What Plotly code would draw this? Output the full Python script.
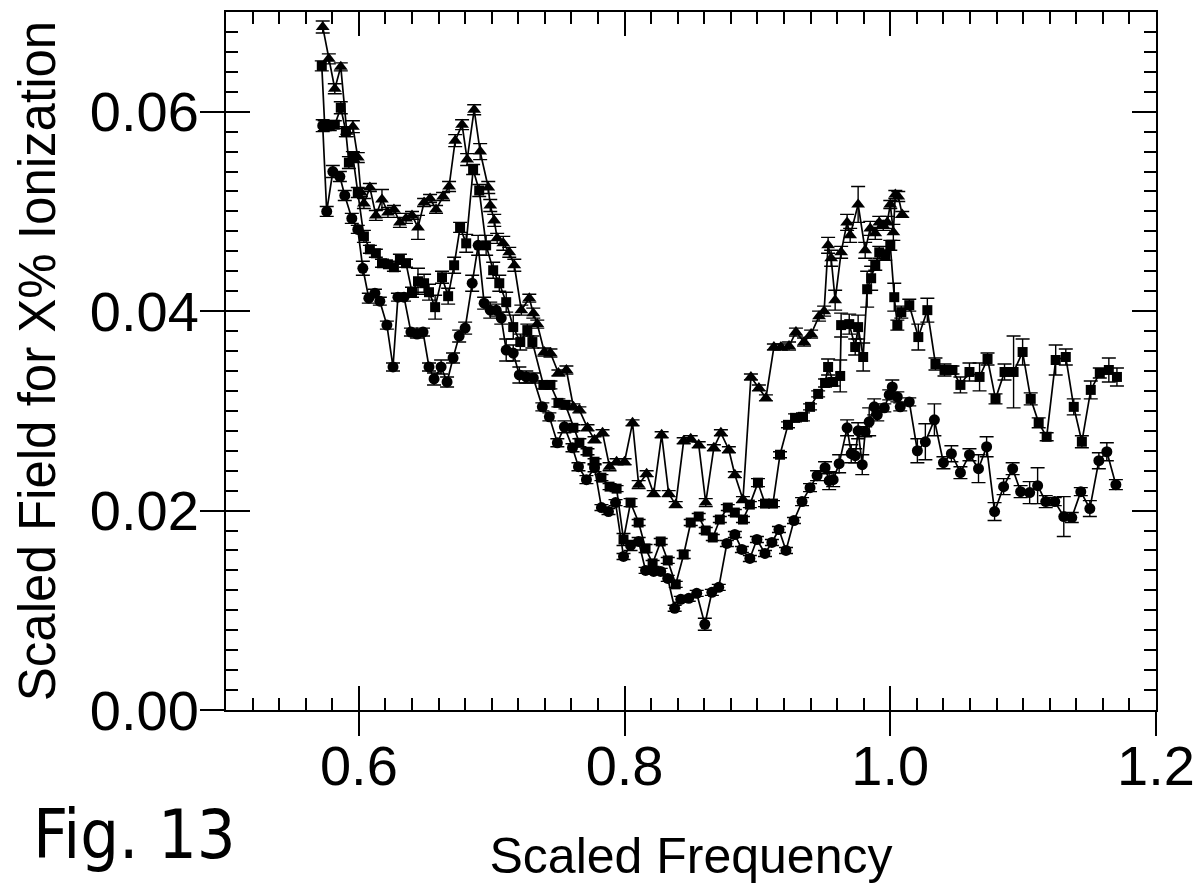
import plotly.graph_objects as go

# ---------------- data ----------------
tri_x = [0.5728,0.5774,0.5819,0.5864,0.5909,0.5955,0.5992,0.6015,0.6038,0.6083,
         0.6128,0.6174,0.6219,0.6264,0.6309,0.6355,0.6400,0.6445,0.6491,0.6536,
         0.6581,0.6634,0.6679,0.6725,0.6777,0.6815,0.6868,0.6913,0.6974,0.6989,
         0.7019,0.7041,0.7087,0.7132,0.7170,0.7223,0.7283,0.7313,0.7343,0.7396,
         0.7442,0.7502,0.7562,0.7615,0.7660,0.7721,0.7774,0.7834,0.7887,0.7940,
         0.8000,0.8060,0.8106,0.8166,0.8219,0.8279,0.8332,0.8385,0.8445,0.8498,
         0.8558,0.8611,0.8672,0.8725,0.8785,0.8830,0.8891,0.8951,0.9011,0.9064,
         0.9124,0.9177,0.9238,0.9290,0.9351,0.9404,0.9464,0.9502,0.9532,0.9555,
         0.9585,0.9630,0.9675,0.9698,0.9758,0.9811,0.9849,0.9887,0.9917,0.9947,
         0.9977,1.0000,1.0023,1.0038,1.0060,1.0090]
tri_y = [0.0685,0.0653,0.0623,0.0645,0.0580,0.0585,0.0554,0.0519,0.0508,0.0524,
         0.0496,0.0512,0.0499,0.0502,0.0489,0.0493,0.0496,0.0484,0.0509,0.0513,
         0.0502,0.0515,0.0525,0.0571,0.0587,0.0552,0.0602,0.0560,0.0524,0.0506,
         0.0491,0.0473,0.0468,0.0459,0.0446,0.0401,0.0413,0.0398,0.0387,0.0359,
         0.0358,0.0338,0.0341,0.0304,0.0301,0.0283,0.0271,0.0278,0.0244,0.0249,
         0.0249,0.0288,0.0226,0.0237,0.0217,0.0276,0.0217,0.0206,0.0270,0.0272,
         0.0266,0.0208,0.0263,0.0278,0.0261,0.0236,0.0211,0.0334,0.0323,0.0313,
         0.0364,0.0364,0.0365,0.0379,0.0369,0.0377,0.0395,0.0400,0.0466,0.0453,
         0.0411,0.0459,0.0489,0.0476,0.0507,0.0461,0.0483,0.0478,0.0489,0.0486,
         0.0489,0.0507,0.0479,0.0517,0.0515,0.0497]
tri_err = [0.0006,0.0005,0.0005,0.0004,0.0005,0.0006,0.0005,0.0004,0.0005,0.0004,
           0.0005,0.0010,0.0005,0.0004,0.0005,0.0005,0.0004,0.0012,0.0004,0.0004,
           0.0004,0.0004,0.0005,0.0006,0.0005,0.0006,0.0005,0.0008,0.0006,0.0006,
           0.0006,0.0005,0.0007,0.0005,0.0006,0.0005,0.0004,0.0005,0.0004,0.0004,
           0.0004,0.0003,0.0004,0.0003,0.0003,0.0003,0.0003,0.0003,0.0004,0.0003,
           0.0003,0.0003,0.0004,0.0003,0.0003,0.0003,0.0003,0.0003,0.0003,0.0003,
           0.0003,0.0004,0.0003,0.0003,0.0003,0.0003,0.0003,0.0003,0.0003,0.0003,
           0.0003,0.0003,0.0004,0.0004,0.0004,0.0004,0.0005,0.0005,0.0008,0.0008,
           0.0010,0.0006,0.0008,0.0007,0.0018,0.0008,0.0007,0.0006,0.0006,0.0005,
           0.0006,0.0004,0.0008,0.0004,0.0005,0.0003]

sq_x = [0.5721,0.5743,0.5781,0.5819,0.5864,0.5902,0.5925,0.5955,0.5992,0.6038,
        0.6083,0.6128,0.6174,0.6219,0.6264,0.6309,0.6355,0.6400,0.6445,0.6491,
        0.6528,0.6574,0.6626,0.6672,0.6717,0.6762,0.6808,0.6860,0.6906,0.6958,
        0.7011,0.7057,0.7109,0.7162,0.7215,0.7268,0.7306,0.7389,0.7442,0.7502,
        0.7555,0.7615,0.7660,0.7721,0.7774,0.7826,0.7887,0.7940,0.7992,0.8045,
        0.8106,0.8158,0.8211,0.8272,0.8325,0.8385,0.8445,0.8498,0.8558,0.8611,
        0.8664,0.8717,0.8777,0.8830,0.8891,0.8943,0.9004,0.9057,0.9117,0.9170,
        0.9230,0.9283,0.9343,0.9396,0.9457,0.9509,0.9532,0.9570,0.9623,0.9630,
        0.9691,0.9736,0.9758,0.9796,0.9826,0.9856,0.9887,0.9917,0.9962,1.0000,
        1.0030,1.0053,1.0083,1.0143,1.0211,1.0279,1.0340,1.0408,1.0468,1.0528,
        1.0596,1.0672,1.0732,1.0792,1.0860,1.0928,1.0996,1.1057,1.1117,1.1177,
        1.1245,1.1321,1.1381,1.1442,1.1509,1.1577,1.1645,1.1706]
sq_y = [0.0646,0.0586,0.0586,0.0587,0.0604,0.0580,0.0549,0.0555,0.0519,0.0475,
        0.0462,0.0458,0.0448,0.0447,0.0444,0.0452,0.0448,0.0419,0.0430,0.0428,
        0.0419,0.0404,0.0434,0.0415,0.0446,0.0484,0.0468,0.0542,0.0521,0.0466,
        0.0441,0.0428,0.0409,0.0384,0.0369,0.0381,0.0369,0.0326,0.0326,0.0308,
        0.0306,0.0283,0.0268,0.0259,0.0249,0.0233,0.0224,0.0222,0.0171,0.0208,
        0.0188,0.0162,0.0147,0.0169,0.0150,0.0126,0.0156,0.0188,0.0194,0.0180,
        0.0173,0.0191,0.0203,0.0198,0.0191,0.0206,0.0228,0.0207,0.0207,0.0256,
        0.0286,0.0293,0.0294,0.0304,0.0317,0.0328,0.0344,0.0329,0.0335,0.0386,
        0.0387,0.0364,0.0384,0.0354,0.0422,0.0433,0.0446,0.0459,0.0456,0.0466,
        0.0414,0.0386,0.0399,0.0406,0.0374,0.0401,0.0347,0.0341,0.0341,0.0326,
        0.0339,0.0334,0.0352,0.0312,0.0339,0.0339,0.0359,0.0312,0.0288,0.0274,
        0.0351,0.0354,0.0304,0.0269,0.0321,0.0338,0.0341,0.0334]
sq_err = [0.0005,0.0005,0.0005,0.0004,0.0006,0.0005,0.0006,0.0005,0.0005,0.0006,
          0.0004,0.0004,0.0004,0.0003,0.0004,0.0005,0.0004,0.0005,0.0013,0.0009,
          0.0008,0.0012,0.0006,0.0008,0.0008,0.0005,0.0009,0.0005,0.0006,0.0010,
          0.0008,0.0008,0.0010,0.0012,0.0008,0.0006,0.0006,0.0004,0.0004,0.0004,
          0.0004,0.0003,0.0004,0.0003,0.0003,0.0003,0.0003,0.0003,0.0006,0.0004,
          0.0003,0.0004,0.0003,0.0003,0.0003,0.0003,0.0004,0.0003,0.0003,0.0003,
          0.0003,0.0003,0.0003,0.0003,0.0003,0.0003,0.0004,0.0003,0.0003,0.0003,
          0.0003,0.0004,0.0004,0.0003,0.0003,0.0004,0.0008,0.0004,0.0016,0.0012,
          0.0010,0.0008,0.0012,0.0014,0.0018,0.0012,0.0005,0.0006,0.0005,0.0005,
          0.0014,0.0005,0.0006,0.0006,0.0013,0.0012,0.0006,0.0006,0.0004,0.0008,
          0.0009,0.0014,0.0006,0.0005,0.0008,0.0036,0.0013,0.0006,0.0005,0.0004,
          0.0015,0.0008,0.0008,0.0006,0.0009,0.0005,0.0012,0.0009]

circ_x = [0.5728,0.5758,0.5804,0.5857,0.5894,0.5947,0.5992,0.6030,0.6075,0.6121,0.6158,
          0.6211,0.6257,0.6294,0.6340,0.6392,0.6438,0.6483,0.6528,0.6566,0.6619,
          0.6664,0.6709,0.6755,0.6800,0.6853,0.6898,0.6943,0.6989,0.7034,0.7072,
          0.7109,0.7162,0.7208,0.7260,0.7313,0.7381,0.7434,0.7494,0.7547,0.7608,
          0.7653,0.7713,0.7774,0.7826,0.7879,0.7932,0.7992,0.8045,0.8106,0.8158,
          0.8219,0.8272,0.8325,0.8377,0.8423,0.8483,0.8543,0.8604,0.8657,0.8709,
          0.8770,0.8830,0.8883,0.8943,0.8996,0.9057,0.9109,0.9162,0.9215,0.9275,
          0.9336,0.9396,0.9449,0.9509,0.9540,0.9570,0.9615,0.9675,0.9706,0.9736,
          0.9758,0.9789,0.9811,0.9841,0.9879,0.9902,0.9955,0.9992,1.0015,1.0053,
          1.0075,1.0143,1.0204,1.0264,1.0332,1.0400,1.0460,1.0528,1.0596,1.0664,
          1.0725,1.0785,1.0853,1.0921,1.0981,1.1049,1.1109,1.1170,1.1238,1.1306,
          1.1366,1.1434,1.1502,1.1570,1.1630,1.1698]
circ_y = [0.0586,0.0500,0.0540,0.0535,0.0516,0.0493,0.0482,0.0443,0.0413,0.0418,0.0410,
          0.0386,0.0344,0.0414,0.0414,0.0379,0.0377,0.0379,0.0344,0.0332,0.0344,
          0.0329,0.0353,0.0375,0.0383,0.0428,0.0466,0.0408,0.0401,0.0401,0.0393,
          0.0361,0.0358,0.0336,0.0334,0.0333,0.0304,0.0294,0.0268,0.0284,0.0263,
          0.0244,0.0231,0.0243,0.0203,0.0199,0.0208,0.0154,0.0165,0.0169,0.0140,
          0.0139,0.0139,0.0132,0.0102,0.0111,0.0112,0.0117,0.0086,0.0118,0.0123,
          0.0167,0.0176,0.0161,0.0152,0.0171,0.0157,0.0168,0.0181,0.0160,0.0190,
          0.0209,0.0223,0.0235,0.0243,0.0230,0.0231,0.0247,0.0283,0.0257,0.0255,
          0.0280,0.0246,0.0279,0.0289,0.0304,0.0296,0.0303,0.0316,0.0324,0.0314,
          0.0304,0.0309,0.0260,0.0269,0.0291,0.0248,0.0257,0.0238,0.0256,0.0242,
          0.0264,0.0199,0.0224,0.0242,0.0219,0.0218,0.0225,0.0209,0.0209,0.0194,
          0.0193,0.0219,0.0202,0.0250,0.0259,0.0226]
circ_err = [0.0006,0.0005,0.0006,0.0005,0.0005,0.0005,0.0004,0.0007,0.0005,0.0004,0.0004,
            0.0004,0.0004,0.0004,0.0004,0.0004,0.0004,0.0004,0.0004,0.0006,0.0007,
            0.0005,0.0005,0.0006,0.0006,0.0008,0.0010,0.0006,0.0008,0.0006,0.0006,
            0.0011,0.0008,0.0008,0.0006,0.0005,0.0004,0.0004,0.0004,0.0006,0.0004,
            0.0004,0.0004,0.0004,0.0003,0.0003,0.0003,0.0003,0.0005,0.0004,0.0003,
            0.0003,0.0003,0.0003,0.0003,0.0003,0.0003,0.0003,0.0006,0.0003,0.0003,
            0.0003,0.0003,0.0003,0.0003,0.0003,0.0003,0.0003,0.0003,0.0003,0.0003,
            0.0004,0.0004,0.0005,0.0006,0.0009,0.0007,0.0009,0.0008,0.0009,0.0007,
            0.0008,0.0010,0.0005,0.0014,0.0008,0.0006,0.0004,0.0005,0.0007,0.0005,
            0.0004,0.0004,0.0012,0.0018,0.0016,0.0006,0.0008,0.0006,0.0006,0.0014,
            0.0010,0.0009,0.0008,0.0006,0.0006,0.0011,0.0018,0.0006,0.0004,0.0020,
            0.0005,0.0004,0.0008,0.0008,0.0009,0.0005]

x_tickvals = [0.6, 0.8, 1.0, 1.2]
x_ticktext = ["0.6", "0.8", "1.0", "1.2"]
y_tickvals = [0.00, 0.02, 0.04, 0.06]
y_ticktext = ["0.00", "0.02", "0.04", "0.06"]

assert len(tri_x) == len(tri_y) == len(tri_err)
assert len(sq_x) == len(sq_y) == len(sq_err)
assert len(circ_x) == len(circ_y) == len(circ_err)

# ---------------- figure ----------------
BLACK = "black"
FONT = "Liberation Sans, Arial, Helvetica, sans-serif"

def series(x, y, err, symbol, size):
    return go.Scatter(
        x=x, y=y, mode="lines+markers",
        line=dict(color=BLACK, width=1.7),
        marker=dict(symbol=symbol, size=size, color=BLACK),
        error_y=dict(type="data", array=err, visible=True,
                     color=BLACK, thickness=1.4, width=7),
        showlegend=False, hoverinfo="x+y",
    )

fig = go.Figure()
fig.add_trace(series(circ_x, circ_y, circ_err, "circle", 11))
fig.add_trace(series(sq_x, sq_y, sq_err, "square", 10))
fig.add_trace(series(tri_x, tri_y, tri_err, "triangle-up", 12))
# empty trace to bring the overlay axes (inward ticks + mirrored frame) to life
fig.add_trace(go.Scatter(x=[None], y=[None], xaxis="x2", yaxis="y2",
                         showlegend=False, hoverinfo="skip"))

xr = [0.5, 1.2]
yr = [0.0, 0.07]

fig.update_layout(
    width=1197, height=893,
    margin=dict(l=226, r=41, t=12, b=183, autoexpand=False),
    paper_bgcolor="white", plot_bgcolor="white",
    font=dict(family=FONT, color=BLACK),
    xaxis=dict(
        range=xr, tickvals=x_tickvals, ticktext=x_ticktext,
        ticks="outside", ticklen=24, tickwidth=2, tickcolor=BLACK,
        showline=True, linewidth=2, linecolor=BLACK,
        showgrid=False, zeroline=False, automargin=False,
        ticklabelstandoff=-18,
        tickfont=dict(family=FONT, size=56, color=BLACK),
        title=dict(text="Scaled Frequency", standoff=42,
                   font=dict(family=FONT, size=50, color=BLACK)),
    ),
    xaxis2=dict(
        range=xr, overlaying="x", anchor="y", side="bottom",
        tickvals=x_tickvals, ticks="inside", ticklen=24, tickwidth=2,
        tickcolor=BLACK, showticklabels=False,
        showline=True, linewidth=2, linecolor=BLACK, mirror="ticks",
        showgrid=False, zeroline=False, automargin=False,
        minor=dict(ticks="inside", ticklen=12, tickwidth=2, tickcolor=BLACK,
                   tick0=0.5, dtick=0.02, showgrid=False),
    ),
    yaxis=dict(
        range=yr, tickvals=y_tickvals, ticktext=y_ticktext,
        ticks="outside", ticklen=24, tickwidth=2, tickcolor=BLACK,
        showline=True, linewidth=2, linecolor=BLACK,
        showgrid=False, zeroline=False, automargin=False,
        ticklabelstandoff=-10,
        tickfont=dict(family=FONT, size=56, color=BLACK),
        title=dict(text="Scaled Field for X% Ionization", standoff=18,
                   font=dict(family=FONT, size=51, color=BLACK)),
    ),
    yaxis2=dict(
        range=yr, overlaying="y", anchor="x", side="left",
        tickvals=y_tickvals, ticks="inside", ticklen=24, tickwidth=2,
        tickcolor=BLACK, showticklabels=False,
        showline=True, linewidth=2, linecolor=BLACK, mirror="ticks",
        showgrid=False, zeroline=False, automargin=False,
        minor=dict(ticks="inside", ticklen=12, tickwidth=2, tickcolor=BLACK,
                   tick0=0.0, dtick=0.002, showgrid=False),
    ),
    annotations=[dict(
        text="Fig. 13", xref="paper", yref="paper",
        x=-0.21, y=-0.178, xanchor="left", yanchor="middle",
        showarrow=False,
        font=dict(family="Liberation Sans Narrow, DejaVu Sans Condensed, Arial Narrow, sans-serif",
                  size=68, color=BLACK),
    )],
)

fig.write_html("out.html")
